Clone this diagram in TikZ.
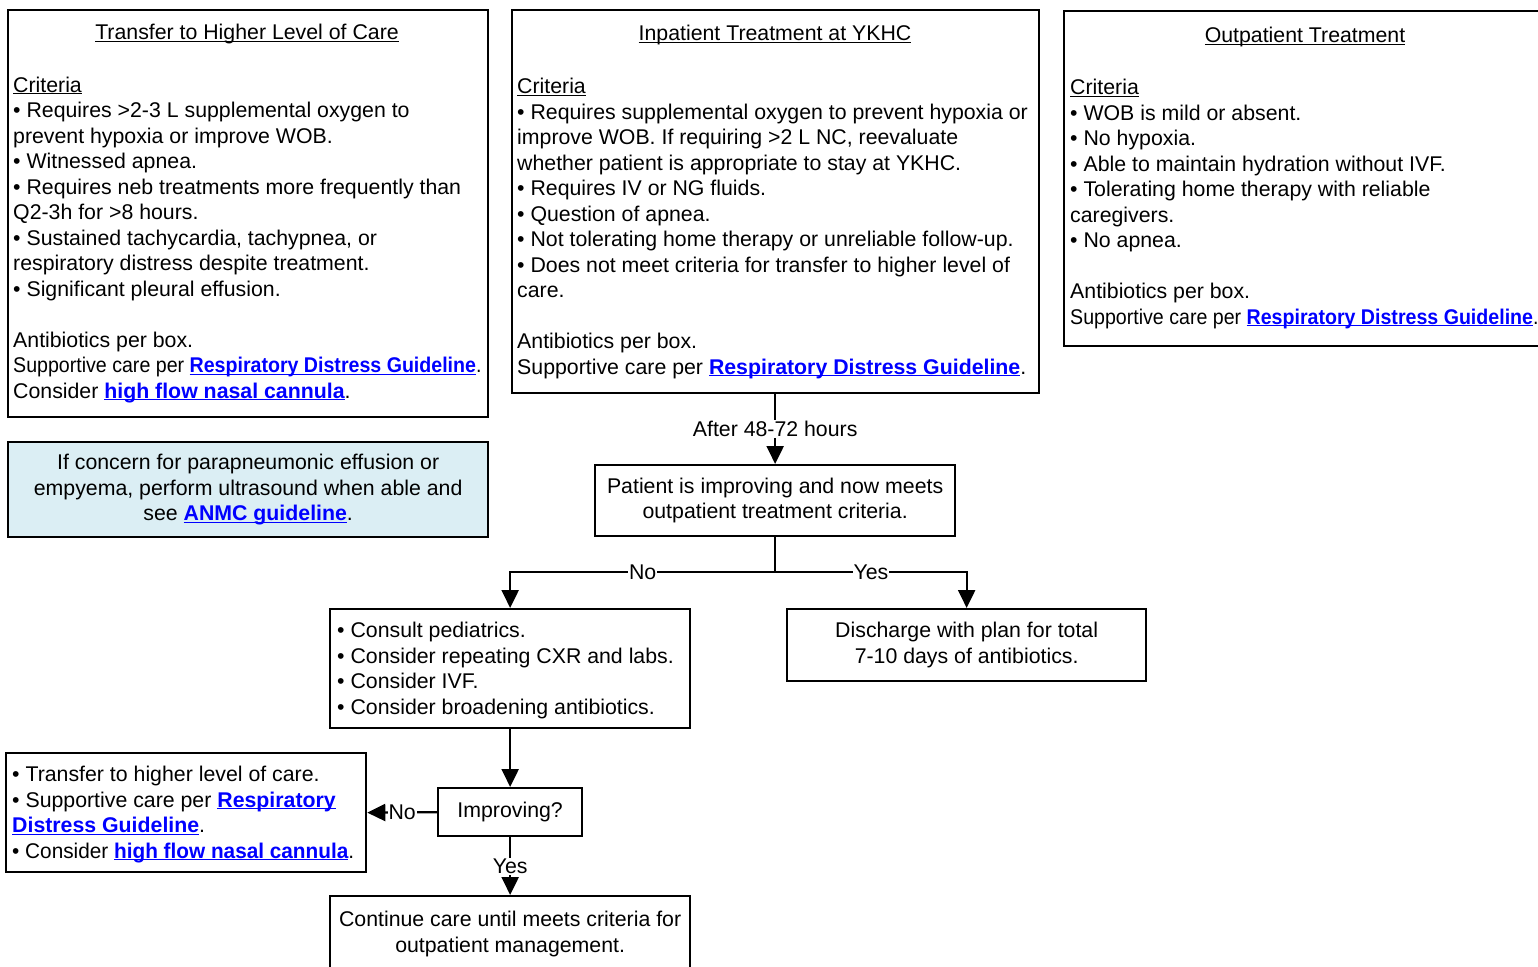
\documentclass[tikz,border=0pt]{standalone}
\usepackage{fontspec}
\usepackage{graphicx}
\setmainfont{Liberation Sans}
\usetikzlibrary{arrows.meta}
\definecolor{linkblue}{RGB}{0,0,255}
\definecolor{lightaqua}{RGB}{219,238,244}
\newcommand\myul[1]{\leavevmode\setbox0\hbox{#1}\rlap{\rule[-2.4pt]{\wd0}{1.4pt}}\box0}
\newcommand\lnk[1]{{\color{linkblue}\bfseries\myul{#1}}}
\newcommand\squeeze[2]{\scalebox{#1}[1]{#2}}
\tikzset{
  fnt/.style={font=\fontsize{21.3}{25.5}\selectfont},
  box/.style={draw, line width=2.3pt, rectangle, inner sep=0pt, anchor=north west},
  txt/.style={fnt, inner sep=0pt, align=left, anchor=base west},
  ttl/.style={fnt, inner sep=0pt, anchor=base},
  cbox/.style={draw, line width=2.3pt, rectangle, fnt, align=center, inner sep=0pt, anchor=north west},
  conn/.style={line width=2.3pt, -{Triangle[length=18pt,width=17pt]}},
  plain/.style={line width=2.3pt},
  lbl/.style={fnt, fill=white, inner sep=1pt},
}
\begin{document}
\begin{tikzpicture}[x=1pt,y=-1pt]
\useasboundingbox (0,0) rectangle (1538,966);
% top boxes
\node[box, minimum width=480pt, minimum height=407pt] (transfer) at (7,9) {};
\node[ttl] (transferT) at (247,40) {\myul{Transfer to Higher Level of Care}};
\node[txt] (transferB) at (13,398) {\myul{Criteria}\\
• Requires >2-3 L supplemental oxygen to\\
prevent hypoxia or improve WOB.\\
• Witnessed apnea.\\
• Requires neb treatments more frequently than\\
Q2-3h for >8 hours.\\
• Sustained tachycardia, tachypnea, or\\
respiratory distress despite treatment.\\
• Significant pleural effusion.\\[25.5pt]
Antibiotics per box.\\
\squeeze{0.92}{Supportive care per \lnk{Respiratory Distress Guideline}.}\\
Consider \lnk{high flow nasal cannula}.};

\node[box, minimum width=527pt, minimum height=383pt] (inpat) at (510.5,9) {};
\node[ttl] (inpatT) at (775,41) {\myul{Inpatient Treatment at YKHC}};
\node[txt] (inpatB) at (517,374) {\myul{Criteria}\\
• Requires supplemental oxygen to prevent hypoxia or\\
improve WOB. If requiring >2 L NC, reevaluate\\
whether patient is appropriate to stay at YKHC.\\
• Requires IV or NG fluids.\\
• Question of apnea.\\
• Not tolerating home therapy or unreliable follow-up.\\
• Does not meet criteria for transfer to higher level of\\
care.\\[25.5pt]
Antibiotics per box.\\
Supportive care per \lnk{Respiratory Distress Guideline}.};

\node[box, minimum width=485pt, minimum height=335pt] (outpat) at (1063,10) {};
\node[ttl] (outpatT) at (1305,43) {\myul{Outpatient Treatment}};
\node[txt] (outpatB) at (1070,324) {\myul{Criteria}\\
• WOB is mild or absent.\\
• No hypoxia.\\
• Able to maintain hydration without IVF.\\
• Tolerating home therapy with reliable\\
caregivers.\\
• No apnea.\\[25.5pt]
Antibiotics per box.\\
\squeeze{0.92}{Supportive care per \lnk{Respiratory Distress Guideline}.}};

% blue note
\node[cbox, fill=lightaqua, minimum width=480pt, minimum height=95pt] (note) at (7,441)
  {If concern for parapneumonic effusion or\\ empyema, perform ultrasound when able and\\ see \lnk{ANMC guideline}.};

% flow
\node[cbox, minimum width=360pt, minimum height=71pt] (patient) at (594,464)
  {Patient is improving and now meets\\ outpatient treatment criteria.};
\node[box, minimum width=360pt, minimum height=119pt] (consult) at (329,608) {};
\node[txt] (consultT) at (337,714)
  {• Consult pediatrics.\\ • Consider repeating CXR and labs.\\ • Consider IVF.\\ • Consider broadening antibiotics.};
\node[cbox, minimum width=359pt, minimum height=72pt] (discharge) at (786,608)
  {Discharge with plan for total\\ 7-10 days of antibiotics.};
\node[cbox, minimum width=144pt, minimum height=48pt] (improving) at (437,787) {Improving?};
\node[box, minimum width=360pt, minimum height=119pt] (transfer2) at (5,752) {};
\node[txt] (transfer2T) at (12,858)
  {• Transfer to higher level of care.\\ • Supportive care per \lnk{Respiratory}\\ \lnk{Distress Guideline}.\\ \squeeze{0.975}{• Consider \lnk{high flow nasal cannula}.}};
\node[cbox, minimum width=360pt, minimum height=76pt] (continue) at (329,895)
  {Continue care until meets criteria for\\ outpatient management.};

\coordinate (split) at (patient.south |- 0,572);
\draw[conn] (inpat.south) -- node[lbl] {After 48-72 hours} (patient.north);
\draw[plain] (patient.south) -- (split);
\draw[conn] (split) -| node[lbl, pos=0.25] {No} (consult.north);
\draw[conn] (split) -| node[lbl, pos=0.25] {Yes} (discharge.north);
\draw[conn] (consult.south) -- (improving.north);
\draw[conn] (improving.west) -- node[lbl] {No} (transfer2.east);
\draw[conn] (improving.south) -- node[lbl] {Yes} (continue.north);
\end{tikzpicture}
\end{document}
